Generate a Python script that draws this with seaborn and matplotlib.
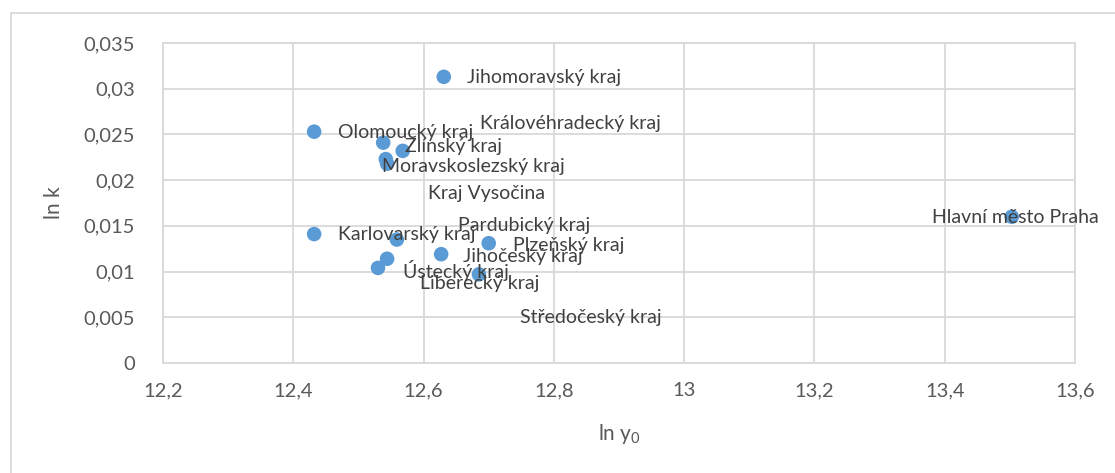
import pandas as pd
import matplotlib.pyplot as plt
import seaborn as sns
from matplotlib.lines import Line2D

# regions and their values
kraje = [
    "Jihomoravský kraj", "Olomoucký kraj", "Zlínský kraj", "Královéhradecký kraj",
    "Moravskoslezský kraj", "Kraj Vysočina", "Karlovarský kraj", "Pardubický kraj",
    "Plzeňský kraj", "Jihočeský kraj", "Středočeský kraj", "Ústecký kraj",
    "Liberecký kraj", "Hlavní město Praha",
]
ln_y0 = [12.631, 12.432, 12.538, 12.568, 12.542, 12.544, 12.432, 12.559,
         12.700, 12.627, 12.544, 12.530, 12.685, 13.503]
ln_k = [0.0313, 0.0253, 0.0241, 0.0232, 0.0223, 0.0218, 0.0141, 0.0135,
        0.0131, 0.0119, 0.0114, 0.0104, 0.0097, 0.0160]

x_ticks = [12.2, 12.4, 12.6, 12.8, 13.0, 13.2, 13.4, 13.6]
y_ticks = [0, 0.005, 0.01, 0.015, 0.02, 0.025, 0.03, 0.035]

# where Excel left the data labels (left edge, vertical centre)
label_pos = {
    "Jihomoravský kraj": (12.667, 0.0312),
    "Olomoucký kraj": (12.469, 0.02516),
    "Zlínský kraj": (12.572, 0.02373),
    "Královéhradecký kraj": (12.687, 0.02614),
    "Moravskoslezský kraj": (12.536, 0.02144),
    "Kraj Vysočina": (12.607, 0.01859),
    "Karlovarský kraj": (12.469, 0.0140),
    "Pardubický kraj": (12.653, 0.01509),
    "Plzeňský kraj": (12.737, 0.0129),
    "Jihočeský kraj": (12.661, 0.0117),
    "Středočeský kraj": (12.748, 0.00492),
    "Ústecký kraj": (12.568, 0.01017),
    "Liberecký kraj": (12.595, 0.00864),
    "Hlavní město Praha": (13.381, 0.01586),
}

df = pd.DataFrame({"kraj": kraje, "ln_y0": ln_y0, "ln_k": ln_k})

sns.set_style("white")
plt.rcParams['font.family'] = ['Lato', 'DejaVu Sans']
plt.rcParams['mathtext.default'] = 'regular'

fig = plt.figure(figsize=(11.15, 4.73), dpi=100)
ax = fig.add_axes([0.1462, 0.2326, 0.8179, 0.6765])

sns.scatterplot(data=df, x="ln_y0", y="ln_k", ax=ax, color="#5b9bd5",
                s=110, edgecolor="none", zorder=3, clip_on=False)

for name in kraje:
    lx, ly = label_pos[name]
    ax.text(lx, ly, name, ha="left", va="center", fontsize=14,
            color="#404040", zorder=4, clip_on=False)

ax.set_xlim(12.2, 13.6)
ax.set_ylim(0, 0.035)
ax.set_xticks(x_ticks)
ax.set_yticks(y_ticks)
ax.set_xticklabels([f"{t:g}".replace(".", ",") for t in x_ticks])
ax.set_yticklabels([f"{t:g}".replace(".", ",") for t in y_ticks])
ax.tick_params(axis="both", length=0, labelsize=14.5, colors="#595959")
ax.tick_params(axis="x", pad=14)
ax.tick_params(axis="y", pad=20)

ax.grid(True, color="#d9d9d9", linewidth=1.3)
ax.set_axisbelow(True)
for sp in ax.spines.values():
    sp.set_color("#d9d9d9")
    sp.set_linewidth(1.3)

ax.set_xlabel("ln y$_0$", fontsize=15, color="#595959", labelpad=16)
ax.set_ylabel("ln k", fontsize=15, color="#595959", labelpad=14)

# chart area border (cut off at right and bottom)
fig.add_artist(Line2D([11 / 1115, 1.0], [1 - 13 / 473] * 2,
                      transform=fig.transFigure, color="#d9d9d9", lw=1.3))
fig.add_artist(Line2D([11 / 1115] * 2, [0.0, 1 - 13 / 473],
                      transform=fig.transFigure, color="#d9d9d9", lw=1.3))

fig.savefig("out.png", dpi=100, facecolor="white")
